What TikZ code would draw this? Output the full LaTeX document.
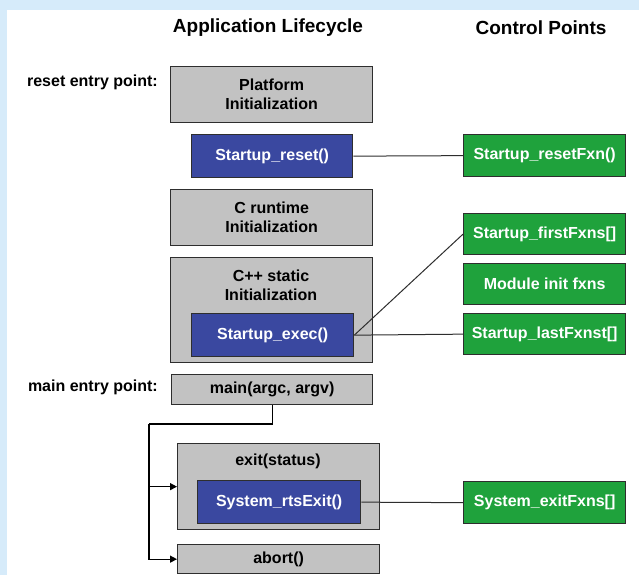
\documentclass[tikz,border=0pt]{standalone}
\usepackage{fontspec}
\setmainfont{Liberation Sans}
\usetikzlibrary{arrows.meta}
\definecolor{bgblue}{HTML}{D6EBFA}
\definecolor{boxgray}{HTML}{C2C2C2}
\definecolor{boxblue}{HTML}{3A48A0}
\definecolor{boxgreen}{HTML}{1FA23C}
\definecolor{edge}{HTML}{2E2E2E}
\tikzset{
  basebox/.style={draw=edge, line width=1.3pt, inner sep=0pt, anchor=north west,
    align=center, font=\bfseries\fontsize{16}{19}\selectfont},
  graybox/.style={basebox, fill=boxgray, text=black},
  bluebox/.style={basebox, fill=boxblue, text=white},
  greenbox/.style={basebox, fill=boxgreen, text=white},
  boxtext/.style={inner sep=0pt, align=center, font=\bfseries\fontsize{16}{19}\selectfont},
  titletext/.style={inner sep=0pt, font=\bfseries\fontsize{19}{22}\selectfont},
  labeltext/.style={inner sep=0pt, anchor=east, font=\bfseries\fontsize{16}{19}\selectfont},
  conn/.style={draw=edge, line width=1pt},
  flow/.style={draw=black, line width=1.3pt},
  flowarrow/.style={flow, -{Triangle[length=7pt,width=7pt]}}
}
\begin{document}
\begin{tikzpicture}[x=1pt,y=-1pt]
\useasboundingbox (0,0) rectangle (639,575);
\fill[bgblue] (0,0) rectangle (639,575);
\fill[white] (7,10) rectangle (639,575);

% titles
\node[titletext] (t1) at (268,28) {Application Lifecycle};
\node[titletext] (t2) at (541,28) {Control Points};

% labels
\node[labeltext] (lreset) at (158,82) {reset entry point:};
\node[labeltext] (lmain) at (158,387) {main entry point:};

% left column
\node[graybox, minimum width=202pt, minimum height=56pt] (plat) at (170,66) {Platform\\Initialization};
\node[bluebox, minimum width=161pt, minimum height=43pt] (sreset) at (191,134) {Startup\_reset()};
\node[graybox, minimum width=202pt, minimum height=56pt] (crt) at (170,189) {C runtime\\Initialization};
\node[graybox, minimum width=202pt, minimum height=105pt] (cpp) at (170,257) {};
\node[boxtext] (cpptext) at (271,285) {C++ static\\Initialization};
\node[bluebox, minimum width=162pt, minimum height=43pt] (sexec) at (191,313) {Startup\_exec()};
\node[graybox, minimum width=201pt, minimum height=30pt] (main) at (171,374) {main(argc, argv)};
\node[graybox, minimum width=202pt, minimum height=86pt] (exit) at (177,443) {};
\node[boxtext] (exittext) at (278,461) {exit(status)};
\node[bluebox, minimum width=163pt, minimum height=43pt] (rts) at (197,480) {System\_rtsExit()};
\node[graybox, minimum width=202pt, minimum height=29pt] (abort) at (177,544) {abort()};

% right column
\node[greenbox, minimum width=162pt, minimum height=42pt] (rfxn) at (463,134) {Startup\_resetFxn()};
\node[greenbox, minimum width=162pt, minimum height=41pt] (first) at (463,213) {Startup\_firstFxns[]};
\node[greenbox, minimum width=162pt, minimum height=41pt] (mod) at (463,263) {Module init fxns};
\node[greenbox, minimum width=162pt, minimum height=41pt] (last) at (463,313) {Startup\_lastFxnst[]};
\node[greenbox, minimum width=162pt, minimum height=42pt] (exfxn) at (463,481) {System\_exitFxns[]};

% connectors
\draw[conn] (sreset.east) -- (rfxn.west);
\draw[conn] (sexec.east) -- (first.west);
\draw[conn] (sexec.east) -- (last.west);
\draw[conn] (rts.east) -- (exfxn.west);

% flow from main
\coordinate (bend) at (149,424);
\draw[flow] (main.south) |- (bend);
\draw[flowarrow] (bend) |- (abort.west);
\draw[flowarrow] (bend |- exit.west) -- (exit.west);
\end{tikzpicture}
\end{document}
